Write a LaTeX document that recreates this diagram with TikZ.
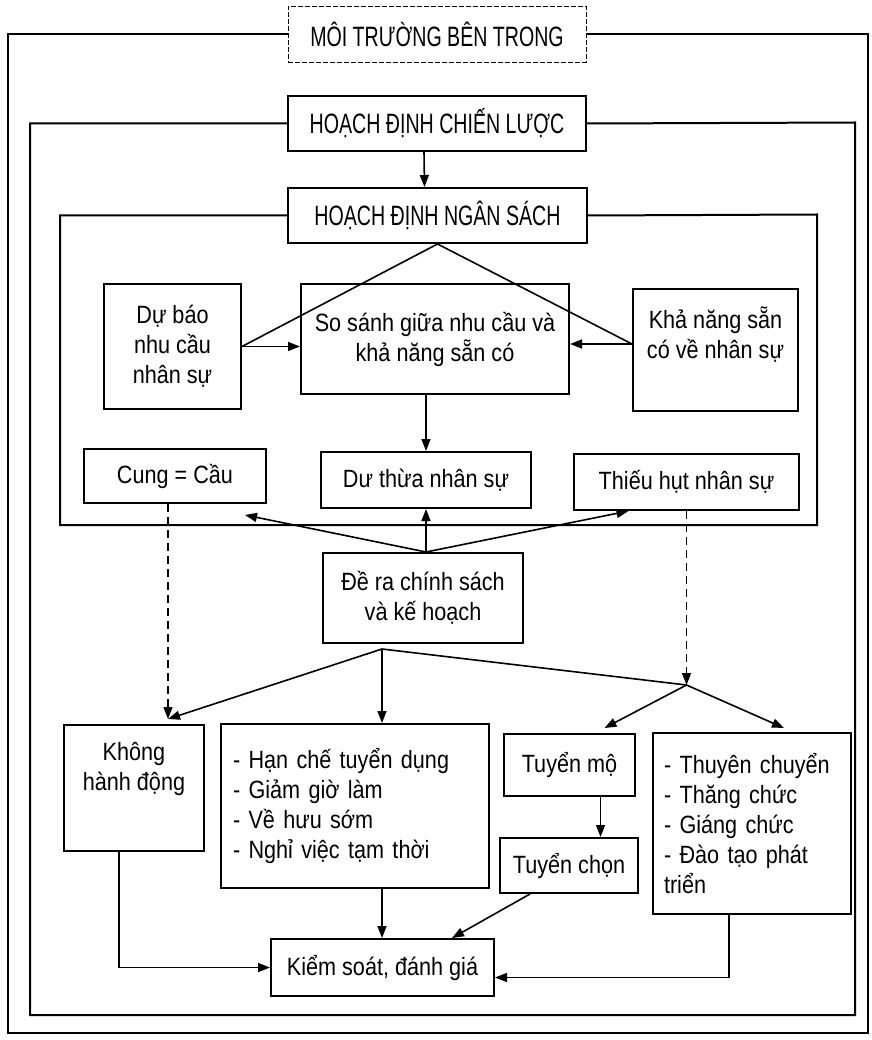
\documentclass[tikz,border=0pt]{standalone}
\usepackage{fontspec}
\setmainfont{Liberation Sans}[FakeStretch=0.865]
\newfontfamily\headfont{Liberation Sans}[FakeStretch=0.7]
\usetikzlibrary{arrows.meta,calc}

\begin{document}
\begin{tikzpicture}[x=1pt,y=-1pt,
  box/.style={draw,line width=2pt,inner sep=0pt,anchor=north west,
    font=\fontsize{25}{30}\selectfont,align=center},
  headbox/.style={box,font=\headfont\fontsize{28}{30}\selectfont},
  titlebox/.style={draw,line width=0.9pt,dash pattern=on 5pt off 2pt,inner sep=0pt,
    font=\headfont\fontsize{28}{30}\selectfont},
  txt/.style={font=\fontsize{25}{30}\selectfont,align=center,inner sep=0pt},
  frame/.style={line width=2pt},
  link/.style={line width=1.6pt},
  arr/.style={link,-{Triangle[length=12pt,width=9pt]}},
  dashline/.style={dash pattern=on 8pt off 5pt}]
\useasboundingbox (0,0) rectangle (871,1040);

% heading boxes
\node[titlebox,minimum width=298pt,minimum height=56pt] (moi) at (437,34) {MÔI TRƯỜNG BÊN TRONG};
\node[headbox,minimum width=298pt,minimum height=55pt] (cl) at (287,95) {HOẠCH ĐỊNH CHIẾN LƯỢC};
\node[headbox,minimum width=299pt,minimum height=55pt] (ns) at (287,187) {HOẠCH ĐỊNH NGÂN SÁCH};

% nested frames
\draw[frame] (moi.west) -| (8,1033) -| (868,34) -- (moi.east);
\draw[frame] (cl.west) -| (30,1015) -| (855,122.5) -- (cl.east);
\draw[frame] (ns.west) -| (60,525) -| (817,214.5) -- (ns.east);

% supply / demand analysis
\node[box,minimum width=137pt,minimum height=125pt] (db) at (103,283) {Dự báo\\nhu cầu\\nhân sự};
\node[box,minimum width=268pt,minimum height=110pt] (ss) at (300,283) {So sánh giữa nhu cầu và\\khả năng sẵn có};
\node[box,minimum width=165pt,minimum height=122pt,
  label={[txt,yshift=15pt]center:{Khả năng sẵn\\có về nhân sự}}] (kn) at (632,288) {};

\node[box,minimum width=182pt,minimum height=54pt] (cc) at (83,448) {Cung = Cầu};
\node[box,minimum width=210pt,minimum height=56pt] (dt) at (320,451) {Dư thừa nhân sự};
\node[box,minimum width=225pt,minimum height=56pt] (th) at (573,453) {Thiếu hụt nhân sự};
\node[box,minimum width=200pt,minimum height=90pt] (dr) at (322,552) {Đề ra chính sách\\và kế hoạch};

% actions
\node[box,minimum width=140pt,minimum height=126pt,
  label={[txt,yshift=19pt]center:{Không\\hành động}}] (kh) at (63,724) {};
\node[box,minimum width=268pt,minimum height=164pt,align=left,text width=244pt,inner xsep=12pt]
  (hc) at (220,723) {- Hạn chế tuyển dụng\\- Giảm giờ làm\\- Về hưu sớm\\- Nghỉ việc tạm thời\\[14pt]};
\node[box,minimum width=131pt,minimum height=62pt] (tm) at (503,733) {Tuyển mộ};
\node[box,minimum width=138pt,minimum height=55pt] (tc) at (499,837) {Tuyển chọn};
\node[box,minimum width=198pt,minimum height=181pt,align=left,text width=176pt,inner xsep=11pt]
  (tcv) at (652,732) {- Thuyên chuyển\\- Thăng chức\\- Giáng chức\\- Đào tạo phát\\triển};
\node[box,minimum width=223pt,minimum height=57pt] (ks) at (270,938) {Kiểm soát, đánh giá};

% connector end points
\coordinate (knp) at ($(kn.west)+(0,-6)$);
\coordinate (ccp) at ($(cc.south east)+(-22,11)$);
\coordinate (thp) at ($(th.south)+(-58,0)$);
\coordinate (drt) at (dt.south |- dr.north);
\coordinate (drb) at ($(dr.south west)+(60,5)$);
\coordinate (khin) at ($(kh.north west)+(105,-5)$);
\coordinate (J) at ($(th.south)+(0,174)$);
\coordinate (tmp) at ($(tm.north)+(35,-5)$);
\coordinate (tcvp) at ($(tcv.north)+(32,-4)$);
\coordinate (tmb) at ($(tm.south)+(31,0)$);
\coordinate (tcb) at ($(tc.south west)+(31,0)$);
\coordinate (ksn) at ($(ks.north east)+(-43,0)$);
\coordinate (khb) at ($(kh.south)+(-15,0)$);
\coordinate (tcvb) at ($(tcv.south)+(-23,0)$);
\coordinate (kse) at ($(ks.east)+(0,10)$);

% connectors
\draw[arr] ($(cl.south)+(-13,0)$) -- ($(ns.north)+(-13,0)$);
\draw[link] (db.east) -- (ns.south) -- (knp);
\draw[arr] (db.east) -- (db.east -| ss.west);
\draw[arr] (knp) -- (knp -| ss.east);
\draw[arr] (dt.north |- ss.south) -- (dt.north);
\draw[arr] (drt) -- (dt.south);
\draw[arr] (drt) -- (ccp);
\draw[arr] (drt) -- (thp);
\draw[arr,dashline] (cc.south -| khin) -- (khin);
\draw[arr] (drb) -- (khin);
\draw[arr] (drb) -- (drb |- hc.north);
\draw[link] (drb) -- (J);
\draw[arr,dashline] (th.south) -- (J);
\draw[arr] (J) -- (tmp);
\draw[arr] (J) -- (tcvp);
\draw[arr] (tmb) -- (tmb |- tc.north);
\draw[arr] (khb) |- (ks.west);
\draw[arr] (hc.south -| drb) -- (ks.north -| drb);
\draw[arr] (tcb) -- (ksn);
\draw[arr] (tcvb) |- (kse);
\end{tikzpicture}
\end{document}
